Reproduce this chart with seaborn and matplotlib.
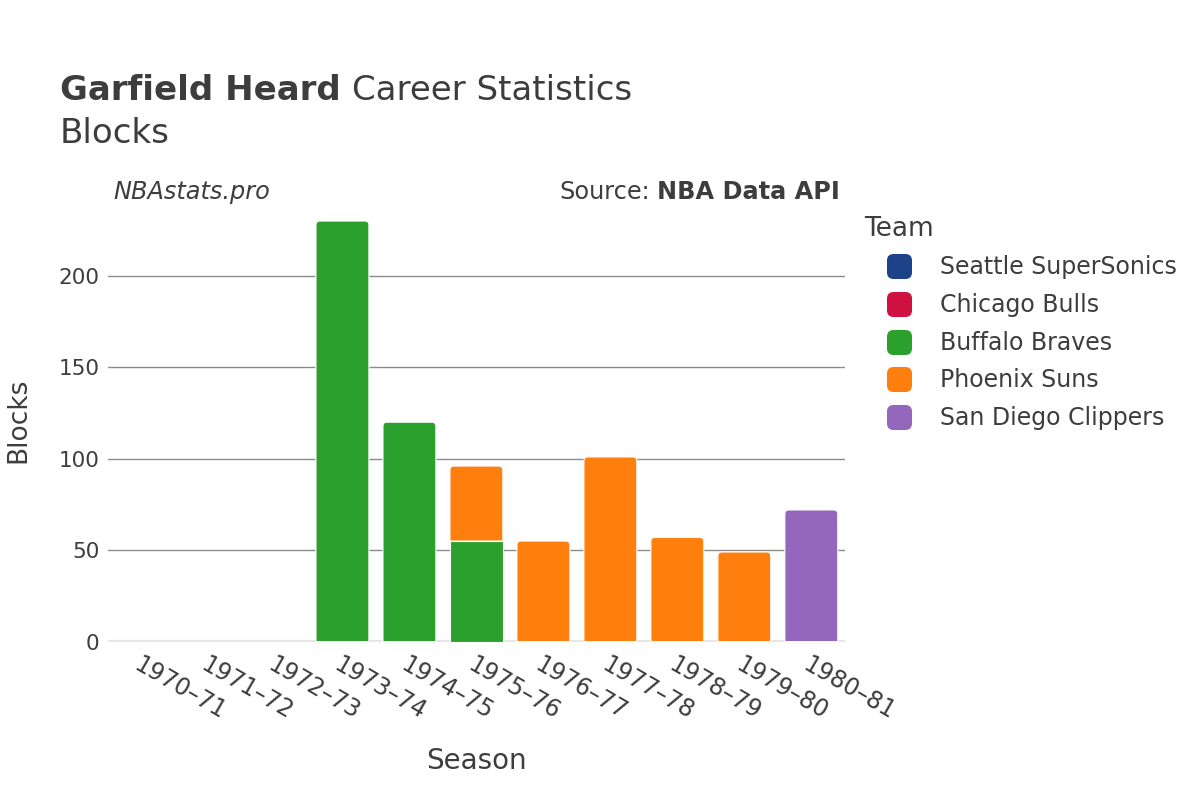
import matplotlib
matplotlib.use("Agg")
import matplotlib.pyplot as plt
from matplotlib.lines import Line2D
from matplotlib.path import Path
from matplotlib.patches import PathPatch
import numpy as np
import pandas as pd
import seaborn as sns

seasons = ["1970–71", "1971–72", "1972–73", "1973–74", "1974–75", "1975–76",
           "1976–77", "1977–78", "1978–79", "1979–80", "1980–81"]
teams = ["Seattle SuperSonics", "Chicago Bulls", "Buffalo Braves", "Phoenix Suns", "San Diego Clippers"]
colors = ["#1d428a", "#ce1141", "#2ca02c", "#ff7f0e", "#9467bd"]
seattle = [0, 0, 0, 0, 0, 0, 0, 0, 0, 0, 0]
chicago = [0, 0, 0, 0, 0, 0, 0, 0, 0, 0, 0]
buffalo = [0, 0, 0, 230, 120, 55, 0, 0, 0, 0, 0]
phoenix = [0, 0, 0, 0, 0, 41, 55, 101, 57, 49, 0]
sandiego = [0, 0, 0, 0, 0, 0, 0, 0, 0, 0, 72]

sns.set_theme(style="white")
plt.rcParams["font.family"] = ["DejaVu Sans"]
TXT = "#3d3d3d"

W, H = 1200, 800
fig = plt.figure(figsize=(12, 8), dpi=100)
ax_pos = [0.09, 0.198, 0.614, 0.552]
ax = fig.add_axes(ax_pos)

series = [seattle, chicago, buffalo, phoenix, sandiego]
vals = np.array(series, dtype=float)
bottoms = np.vstack([np.zeros(len(seasons)), np.cumsum(vals, axis=0)[:-1]])
totals = vals.sum(axis=0)

YMAX = 241.5
bar_info = []
for i, team in enumerate(teams):
    df = pd.DataFrame({"Season": seasons, "val": vals[i]})
    n_before = len(ax.patches)
    sns.barplot(data=df, x="Season", y="val", color=colors[i], saturation=1,
                width=0.79, bottom=bottoms[i], edgecolor="white", linewidth=0.8,
                ax=ax, zorder=3)
    for j, p in enumerate(ax.patches[n_before:]):
        bar_info.append((i, j, p))

ax.set_ylim(0, YMAX)
ax.set_xlim(-0.5, len(seasons) - 0.5)

# round top corners of the topmost segment of each stack
px_per_x = ax_pos[2] * W / len(seasons)
px_per_y = ax_pos[3] * H / YMAX
rx, ry = 4 / px_per_x, 4 / px_per_y
for i, j, p in bar_info:
    h = p.get_height()
    if h <= 0:
        p.set_visible(False)
        continue
    top = p.get_y() + h
    if np.isclose(top, totals[j]):
        x0, y0, w = p.get_x(), p.get_y(), p.get_width()
        x1, y1 = x0 + w, top
        verts = [(x0, y0), (x0, y1 - ry), (x0, y1), (x0 + rx, y1), (x1 - rx, y1),
                 (x1, y1), (x1, y1 - ry), (x1, y0), (x0, y0)]
        codes = [Path.MOVETO, Path.LINETO, Path.CURVE3, Path.CURVE3, Path.LINETO,
                 Path.CURVE3, Path.CURVE3, Path.LINETO, Path.CLOSEPOLY]
        pp = PathPatch(Path(verts, codes), facecolor=p.get_facecolor(),
                       edgecolor="white", linewidth=0.8, zorder=3)
        p.set_visible(False)
        ax.add_patch(pp)

ax.set_yticks([0, 50, 100, 150, 200])
ax.grid(axis="y", color="#8c8c8c", linewidth=1, zorder=0)
ax.grid(axis="x", visible=False)
for s in ax.spines.values():
    s.set_visible(False)
ax.axhline(0, color="#e6e6e6", linewidth=3, zorder=2)
ax.tick_params(axis="y", labelsize=15.5, colors=TXT, length=0, pad=6)
ax.tick_params(axis="x", labelsize=17, colors=TXT, length=0, pad=8)
for lab in ax.get_xticklabels():
    lab.set_rotation(-30)
    lab.set_ha("left")
    lab.set_va("top")
    lab.set_rotation_mode("anchor")
ax.set_xlabel("Season", fontsize=20, color=TXT, labelpad=16)
ax.set_ylabel("Blocks", fontsize=19, color=TXT, labelpad=20)

# title
t1 = fig.text(60 / W, 1 - 100 / H, "Garfield Heard", fontsize=24.5, fontweight="bold", color=TXT)
fig.canvas.draw()
bb = t1.get_window_extent()
fig.text(bb.x1 / W + 0.009, 1 - 100 / H, "Career Statistics", fontsize=24.5, color=TXT)
fig.text(60 / W, 1 - 143 / H, "Blocks", fontsize=24.5, color=TXT)

fig.text(113 / W, 1 - 199 / H, "NBAstats.pro", fontsize=17.3, style="italic", color=TXT)
s2 = fig.text(840 / W, 1 - 199 / H, "NBA Data API", fontsize=17.3, fontweight="bold", color=TXT, ha="right")
fig.canvas.draw()
bb2 = s2.get_window_extent()
fig.text(bb2.x0 / W - 0.006, 1 - 199 / H, "Source:", fontsize=17.3, color=TXT, ha="right")

# rounded square legend marker
r = 0.25
mverts = [(-0.5 + r, -0.5), (0.5 - r, -0.5), (0.5, -0.5), (0.5, -0.5 + r), (0.5, 0.5 - r),
          (0.5, 0.5), (0.5 - r, 0.5), (-0.5 + r, 0.5), (-0.5, 0.5), (-0.5, 0.5 - r),
          (-0.5, -0.5 + r), (-0.5, -0.5), (-0.5 + r, -0.5), (-0.5 + r, -0.5)]
mcodes = [Path.MOVETO, Path.LINETO, Path.CURVE3, Path.CURVE3, Path.LINETO,
          Path.CURVE3, Path.CURVE3, Path.LINETO, Path.CURVE3, Path.CURVE3,
          Path.LINETO, Path.CURVE3, Path.CURVE3, Path.CLOSEPOLY]
rsq = Path(mverts, mcodes)

handles = [Line2D([0], [0], marker=rsq, linestyle="none", markersize=17,
                  markerfacecolor=c, markeredgecolor=c) for c in colors]
leg = fig.legend(handles, teams, title="Team", loc="upper left",
                 bbox_to_anchor=(859 / W, 1 - 211 / H), frameon=False,
                 fontsize=17, title_fontsize=19, labelspacing=0.58,
                 handlelength=3.0, handletextpad=0.25, borderaxespad=0, borderpad=0.2)
leg._legend_box.align = "left"
for t in leg.get_texts():
    t.set_color(TXT)
leg.get_title().set_color(TXT)

fig.savefig("out.png", dpi=100, facecolor="white")
